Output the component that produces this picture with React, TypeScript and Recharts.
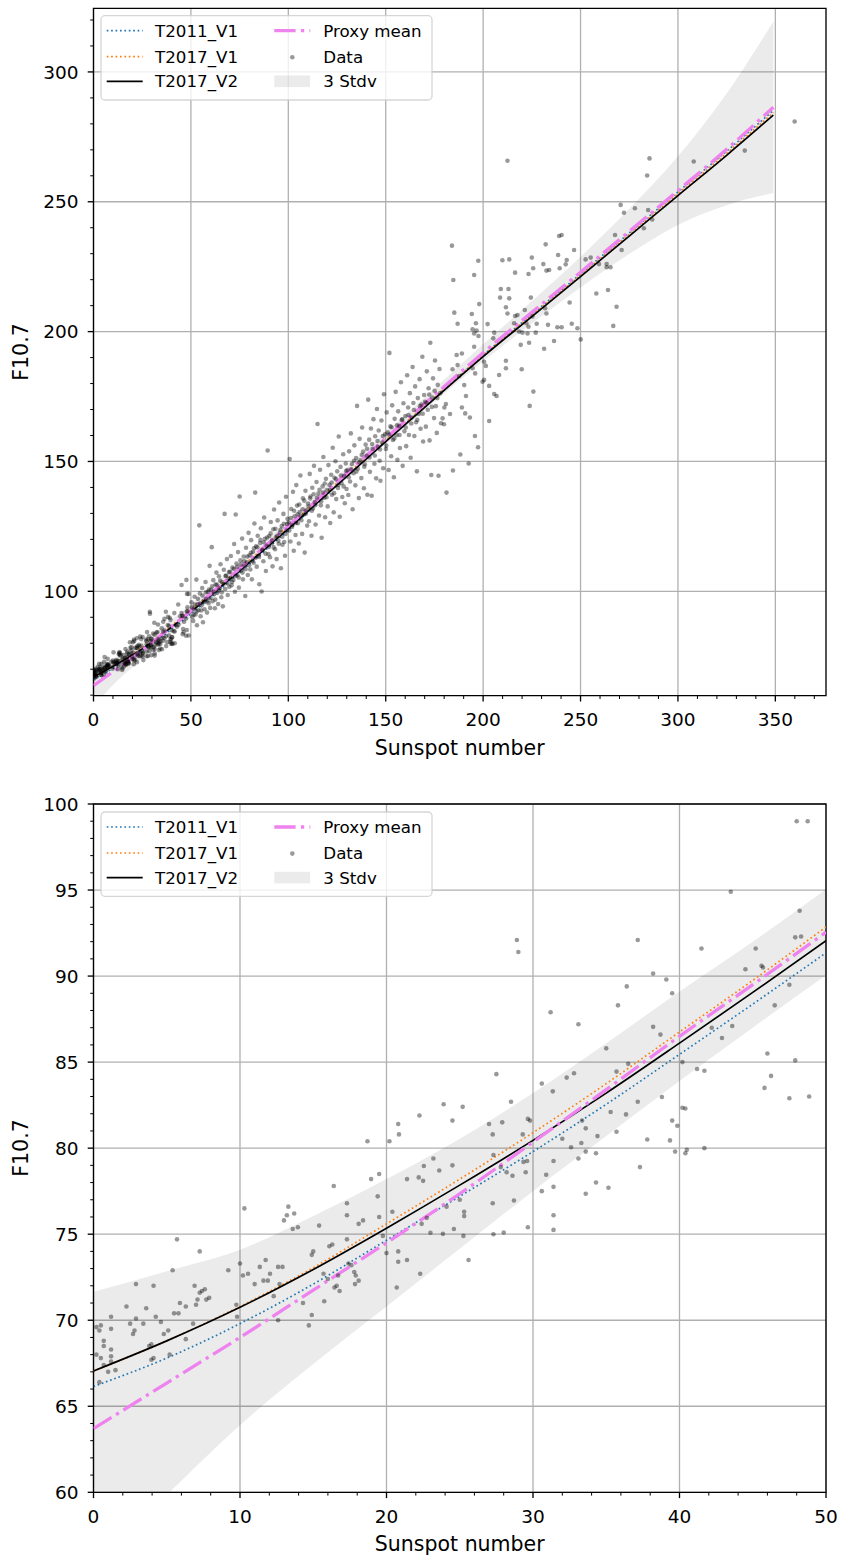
import React from 'react';
import {
  ComposedChart,
  Line,
  Area,
  Scatter,
  XAxis,
  YAxis,
  CartesianGrid,
  ReferenceArea,
} from 'recharts';

const FONT = 'DejaVu Sans, Verdana, sans-serif';
const TICK_FONT = 18.5;
const LABEL_FONT = 20.5;

// ---------------- Axis ticks ----------------
const topXMajor = [0, 50, 100, 150, 200, 250, 300, 350];
const topXMinor = [10, 20, 30, 40, 60, 70, 80, 90, 110, 120, 130, 140, 160, 170, 180, 190, 210, 220, 230, 240, 260, 270, 280, 290, 310, 320, 330, 340, 360, 370];
const topYMajor = [100, 150, 200, 250, 300];
const topYMinor = [60, 70, 80, 90, 110, 120, 130, 140, 160, 170, 180, 190, 210, 220, 230, 240, 260, 270, 280, 290, 310, 320];
const botXMajor = [0, 10, 20, 30, 40, 50];
const botXMinor = [2, 4, 6, 8, 12, 14, 16, 18, 22, 24, 26, 28, 32, 34, 36, 38, 42, 44, 46, 48];
const botYMajor = [60, 65, 70, 75, 80, 85, 90, 95, 100];
const botYMinor = [61, 62, 63, 64, 66, 67, 68, 69, 71, 72, 73, 74, 76, 77, 78, 79, 81, 82, 83, 84, 86, 87, 88, 89, 91, 92, 93, 94, 96, 97, 98, 99];

const topXDomain = [0, 376];
const topYDomain = [59.8, 324.5];
const botXDomain = [0, 50];
const botYDomain = [60, 100];

// ---------------- Model curves (zoomed range, sunspot 0..50) ----------------
const lowX = [0, 5, 10, 15, 20, 25, 30, 35, 40, 45, 50];
const lowT2011V1 = [66.15, 67.8, 69.8, 72.1, 74.65, 77.2, 79.8, 82.55, 85.45, 88.37, 91.35];
const lowT2017V1 = [67.05, 68.8, 70.8, 73.05, 75.6, 78.2, 80.9, 83.75, 86.75, 89.75, 92.85];
const lowT2017V2 = [67.05, 68.8, 70.75, 72.95, 75.35, 77.85, 80.45, 83.2, 86.1, 89.05, 92.05];
const lowProxy = [63.7, 66.35, 69.0, 71.75, 74.5, 77.35, 80.35, 83.4, 86.5, 89.5, 92.55];
const lowBandHi = [71.65, 72.85, 74.1, 76.05, 78.2, 80.55, 83.2, 86.1, 89.1, 92.0, 95.05];
const lowBandLo = [55.75, 59.85, 63.9, 67.45, 70.8, 74.15, 77.5, 80.7, 83.9, 87.0, 90.05];

// ---------------- Model curves (full range) ----------------
const fullX = [0, 25, 50, 75, 100, 125, 150, 175, 200, 225, 250, 275, 300, 325, 349];
const fullT2011V1 = [66.15, 77.2, 91.35, 107.3, 123.7, 140.8, 157.8, 174.5, 190.95, 206.6, 222.2, 238.0, 253.8, 269.5, 285.2];
const fullT2017V1 = [67.05, 78.2, 92.85, 108.8, 125.0, 141.7, 158.3, 174.7, 190.85, 206.3, 221.7, 237.4, 253.1, 268.7, 284.4];
const fullT2017V2 = [67.05, 77.85, 92.05, 107.9, 124.1, 140.9, 157.6, 174.1, 190.35, 205.8, 221.2, 236.8, 252.4, 267.9, 283.4];
const fullProxy = [63.7, 77.35, 92.55, 108.8, 125.2, 142.1, 158.9, 175.5, 191.85, 207.4, 222.9, 238.6, 254.3, 270.2, 286.4];
const highBandX = [75, 100, 125, 150, 175, 200, 225, 250, 275, 300, 325, 349];
const highBandHi = [111.1, 127.4, 144.3, 161.2, 178.1, 195.15, 211.7, 228.8, 247.3, 267.5, 291.7, 319.4];
const highBandLo = [106.5, 123.0, 139.9, 156.6, 172.9, 188.55, 203.1, 217.0, 229.9, 241.1, 248.7, 253.4];

// ---------------- Observations [sunspot number, F10.7] ----------------
const dataLow: number[][] = [
  [0.2, 69.6], [0.4, 69.4], [0.5, 69.7], [0.7, 68.5], [0.7, 68.8], [0.2, 68.0], [0.5, 67.8], [1.2, 70.2], [1.2, 69.5], [1.2, 68.3],
  [1.2, 67.9], [1.2, 67.6], [1.0, 67.0], [1.5, 67.1], [0.4, 66.4], [0.7, 67.4], [2.25, 70.8], [2.5, 69.8], [2.7, 69.2], [2.8, 69.4],
  [2.9, 70.1], [2.9, 72.1], [3.4, 69.8], [3.6, 70.7], [4.1, 72.0], [4.25, 70.2], [4.6, 69.9], [3.8, 68.5], [3.95, 67.7], [4.1, 67.8],
  [3.95, 68.6], [4.8, 69.2], [5.1, 69.4], [5.2, 68.0], [5.4, 72.9], [5.5, 70.4], [5.7, 74.7], [5.8, 70.4], [5.9, 71.0], [6.3, 70.8],
  [6.3, 68.9], [6.8, 69.8], [6.9, 72.0], [7.0, 70.9], [7.1, 71.2], [7.25, 71.6], [7.4, 71.7], [7.6, 71.8], [7.7, 71.2], [7.9, 71.3],
  [7.25, 74.0], [9.2, 72.9], [9.75, 70.9], [9.8, 70.2], [10.0, 73.3], [10.2, 72.6], [10.3, 76.5], [10.55, 72.7], [11.0, 72.1], [11.35, 73.1],
  [11.6, 72.3], [11.75, 73.5], [11.9, 72.3], [12.05, 72.7], [12.3, 71.4], [12.6, 73.1], [12.6, 70.0], [12.7, 72.1], [12.9, 73.1], [13.0, 75.8],
  [13.2, 76.1], [13.3, 76.6], [13.6, 75.3], [13.7, 76.2], [13.95, 75.4], [14.3, 71.0], [14.7, 69.7], [14.9, 73.8], [14.9, 70.3], [15.0, 74.0],
  [15.4, 75.5], [15.7, 72.7], [15.75, 71.1], [16.0, 72.4], [16.1, 74.3], [16.3, 74.4], [16.4, 77.8], [16.45, 71.9], [16.6, 72.0], [16.7, 72.6],
  [16.8, 71.7], [17.3, 76.8], [17.3, 76.1], [17.3, 74.7], [17.4, 73.3], [17.6, 73.2], [17.8, 72.8], [17.85, 72.1], [17.9, 72.6], [18.1, 75.6],
  [18.1, 72.3], [18.4, 75.8], [18.7, 80.4], [18.95, 78.2], [19.4, 77.2], [19.5, 78.5], [19.5, 76.0], [19.75, 74.9], [20.0, 73.9], [20.2, 80.4],
  [20.4, 76.3], [20.7, 71.9], [20.8, 81.4], [20.8, 74.0], [20.85, 80.8], [20.8, 73.4], [21.4, 78.2], [21.4, 73.5], [22.3, 72.7], [25.6, 73.5],
  [28.9, 92.1], [29.0, 91.4], [37.15, 92.1], [38.2, 90.15], [39.1, 89.8], [39.5, 89.0], [36.4, 89.4], [35.8, 88.3], [31.2, 87.9], [33.1, 87.2],
  [38.2, 87.05], [38.7, 86.6], [35.0, 85.8], [40.2, 85.0], [41.2, 84.6], [36.5, 84.9], [35.7, 84.45], [32.8, 84.35], [32.3, 84.1], [27.5, 84.3],
  [30.6, 83.75], [31.35, 83.3], [28.5, 82.7], [23.9, 82.55], [25.2, 82.4], [22.25, 81.9], [24.5, 81.6], [27.0, 81.4], [27.9, 81.5], [29.65, 81.7],
  [29.8, 81.6], [29.3, 80.8], [27.25, 80.8], [33.35, 81.6], [33.6, 81.15], [34.4, 80.7], [33.3, 80.3], [32.6, 80.05], [33.1, 79.4], [33.6, 79.8],
  [34.3, 79.7], [35.3, 82.1], [35.7, 80.95], [36.35, 81.96], [37.15, 82.7], [37.8, 80.5], [38.8, 82.97], [39.35, 80.45], [39.5, 81.6], [39.85, 81.3],
  [39.7, 79.8], [40.4, 79.7], [40.2, 82.35], [37.3, 78.9], [34.3, 78.0], [35.15, 77.7], [33.6, 77.35], [31.4, 77.75], [30.6, 77.5], [30.9, 78.45],
  [31.4, 79.25], [32.0, 80.55], [29.5, 78.6], [29.6, 79.25], [29.35, 79.2], [28.6, 78.4], [28.2, 78.6], [27.3, 79.6], [27.25, 76.8], [27.8, 78.9],
  [28.7, 76.96], [31.4, 76.1], [31.4, 75.25], [29.65, 75.4], [25.3, 76.3], [25.3, 76.05], [24.6, 75.3], [23.6, 78.7], [24.5, 79.0], [23.2, 79.4],
  [22.55, 78.96], [22.2, 78.3], [22.5, 78.1], [24.1, 76.6], [25.0, 77.0], [22.75, 75.95], [22.4, 75.6], [23.0, 75.08], [23.85, 75.02], [25.25, 74.9],
  [27.3, 75.0], [28.0, 75.1], [48.0, 99.0], [48.75, 99.0], [43.5, 94.9], [48.2, 93.8], [47.9, 92.25], [48.3, 92.3], [45.2, 91.6], [45.6, 90.6],
  [45.7, 90.5], [44.5, 90.4], [47.5, 89.5], [41.5, 91.6], [46.5, 88.3], [46.0, 85.5], [47.9, 85.1], [42.2, 87.0], [43.6, 87.1], [42.9, 86.4],
  [41.7, 84.5], [46.25, 84.2], [45.8, 83.5], [47.5, 82.9], [48.85, 83.0], [40.4, 82.3], [40.5, 79.9], [41.7, 80.0],
];

const dataHigh: number[][] = [
  [45.2, 102.4], [47.7, 104.4],
  [50.3, 95.8], [50.8, 90.2], [51.2, 88.6], [51.5, 93.4], [51.9, 97.9], [52.4, 91.1], [52.8, 104.5], [53.1, 86.9], [53.5, 95.0], [53.9, 92.7],
  [54.3, 125.4], [54.6, 99.2], [55.0, 90.4], [55.4, 94.6], [55.8, 101.3], [56.2, 88.1], [56.6, 96.3], [57.0, 93.1], [57.5, 103.6], [57.9, 97.0],
  [58.3, 91.8], [58.7, 99.8], [59.1, 95.4], [59.6, 109.8], [59.9, 93.6],
  [60.3, 100.6], [60.7, 117.0], [61.1, 96.2], [61.5, 104.3], [61.9, 98.9], [62.3, 93.5], [62.7, 102.7], [63.1, 107.2], [63.6, 99.4], [64.0, 95.1],
  [64.4, 105.8], [64.8, 101.2], [65.2, 110.4], [65.6, 97.7], [66.0, 103.5], [66.4, 94.2], [66.9, 108.3], [67.3, 129.8], [67.6, 100.9], [68.0, 106.1],
  [68.5, 112.4], [68.9, 98.6], [69.3, 104.9], [69.7, 101.8],
  [70.1, 107.5], [70.5, 113.6], [70.9, 102.3], [71.3, 109.1], [71.8, 104.4], [72.2, 118.2], [72.6, 99.8], [73.0, 129.6], [73.4, 110.7], [73.8, 106.2],
  [74.2, 115.1], [74.6, 101.4], [75.0, 136.5], [75.4, 111.9], [75.8, 108.0], [76.3, 120.3], [76.7, 104.6], [77.1, 113.4], [77.5, 109.7], [77.9, 98.2],
  [78.3, 116.8], [78.8, 111.2], [79.2, 106.3], [79.6, 122.5],
  [80.1, 113.9], [80.5, 108.4], [80.9, 119.7], [81.3, 104.6], [81.8, 115.2], [82.2, 111.0], [82.6, 126.1], [83.0, 138.0], [83.4, 117.3], [83.8, 109.5],
  [84.3, 121.4], [84.7, 113.8], [85.1, 102.7], [85.5, 118.6], [85.9, 124.3], [86.3, 99.9], [86.8, 116.0], [87.2, 111.6], [87.6, 128.4], [88.0, 120.2],
  [88.5, 107.8], [88.9, 117.5], [89.4, 154.2], [89.8, 114.3],
  [90.2, 121.3], [90.6, 113.1], [91.0, 126.7], [91.5, 118.4], [91.9, 109.6], [92.3, 123.9], [92.7, 131.5], [93.2, 116.2], [93.6, 120.8], [94.0, 112.4],
  [94.5, 127.3], [94.9, 119.5], [95.3, 134.2], [95.7, 122.6], [96.2, 108.9], [96.6, 125.1], [97.0, 117.9], [97.5, 129.8], [97.9, 119.0], [98.3, 113.7],
  [98.8, 136.4], [99.2, 123.4], [99.6, 127.9],
  [100.2, 126.5], [100.7, 150.9], [101.1, 119.2], [101.5, 131.7], [101.9, 124.8], [102.4, 138.3], [102.8, 115.6], [103.2, 128.9], [103.7, 121.7], [104.1, 140.9],
  [104.5, 133.0], [104.9, 126.2], [105.4, 118.4], [105.8, 130.5], [106.2, 144.6], [106.7, 127.4], [107.1, 122.1], [107.5, 135.8], [108.0, 129.6], [108.4, 114.9],
  [108.8, 138.7], [109.3, 131.2], [109.7, 125.3],
  [110.1, 133.8], [110.6, 127.0], [111.0, 145.2], [111.4, 136.5], [111.9, 121.4], [112.3, 139.9], [112.7, 131.9], [113.2, 148.3], [113.6, 134.4], [114.0, 125.7],
  [114.5, 142.1], [115.0, 164.4], [115.4, 137.6], [115.8, 129.2], [116.3, 146.8], [116.7, 133.1], [117.1, 120.6], [117.6, 140.4], [118.0, 151.7], [118.5, 136.0],
  [118.9, 128.5], [119.3, 143.3], [119.8, 138.9],
  [120.2, 132.7], [120.6, 148.6], [121.1, 141.0], [121.5, 126.3], [122.0, 144.9], [122.4, 137.2], [122.8, 155.3], [123.3, 130.4], [123.7, 143.7], [124.2, 150.1],
  [124.6, 135.5], [125.1, 146.2], [125.5, 139.8], [125.9, 159.6], [126.4, 128.7], [126.8, 147.9], [127.3, 141.6], [127.7, 136.3], [128.2, 152.8], [128.6, 144.5],
  [129.0, 133.9], [129.5, 149.2], [129.9, 139.4],
  [130.3, 146.7], [130.8, 137.1], [131.2, 153.9], [131.7, 142.3], [132.1, 160.8], [132.6, 149.0], [133.0, 131.6], [133.5, 145.5], [133.9, 156.2], [134.4, 140.8],
  [134.8, 151.3], [135.3, 171.4], [135.7, 147.2], [136.2, 135.9], [136.6, 158.7], [137.0, 150.4], [137.5, 143.6], [137.9, 163.1], [138.4, 153.8], [138.8, 139.7],
  [139.3, 148.9], [139.7, 156.5],
  [140.2, 152.2], [140.6, 137.2], [141.0, 173.8], [141.5, 158.4], [141.9, 146.0], [142.4, 162.7], [142.8, 136.8], [143.3, 154.9], [143.7, 166.3], [144.2, 149.1],
  [144.6, 159.7], [145.1, 143.5], [145.5, 170.2], [146.0, 155.6], [146.4, 161.9], [146.9, 150.3], [147.3, 142.6], [147.8, 165.8], [148.2, 157.3], [148.7, 147.4],
  [149.1, 175.9], [149.6, 160.5],
  [150.1, 154.8], [150.5, 168.9], [151.0, 161.2], [151.5, 146.7], [151.9, 191.8], [152.4, 163.5], [152.8, 152.0], [153.3, 171.6], [153.7, 158.3], [154.2, 143.9],
  [154.6, 166.4], [155.1, 176.8], [155.5, 160.1], [156.0, 150.6], [156.4, 169.3], [156.9, 163.7], [157.3, 155.2], [157.8, 180.5], [158.2, 166.0], [158.7, 148.3],
  [159.1, 172.4], [159.6, 161.6],
  [160.1, 167.5], [160.5, 155.9], [161.0, 183.2], [161.5, 170.8], [161.9, 160.2], [162.4, 176.3], [162.8, 151.4], [163.3, 166.9], [163.8, 186.4], [164.2, 172.5],
  [164.7, 159.8], [165.1, 178.9], [165.6, 165.1], [166.0, 146.2], [166.5, 174.4], [167.0, 168.3], [167.4, 181.7], [167.9, 162.6], [168.3, 171.9], [168.8, 190.3],
  [169.2, 157.7], [169.7, 175.6],
  [170.2, 173.0], [170.6, 163.4], [171.1, 184.7], [171.6, 169.9], [172.0, 178.2], [172.5, 158.1], [172.9, 195.7], [173.4, 144.8], [173.9, 174.6], [174.3, 182.0],
  [174.8, 166.7], [175.3, 188.9], [175.7, 171.3], [176.2, 161.0], [176.7, 179.5], [177.1, 144.5], [177.6, 185.6], [179.9, 164.3],
  [181.2, 138.0], [184.5, 146.5], [188.3, 152.7], [192.6, 149.2], [197.4, 155.5],
  [50.6, 93.8], [51.4, 91.0], [52.1, 94.9], [52.9, 92.2], [53.6, 97.1], [54.8, 95.3], [55.3, 92.6], [56.0, 98.4], [56.9, 95.9], [57.7, 99.6],
  [58.5, 96.2], [59.3, 100.7], [60.1, 97.4], [60.9, 101.9], [61.7, 99.8], [62.5, 96.8], [63.3, 102.4], [64.2, 100.3], [65.0, 104.1], [65.9, 99.6],
  [66.7, 102.8], [67.8, 105.9], [68.7, 103.1], [69.5, 107.4], [70.4, 105.2], [71.1, 103.6], [72.0, 108.7], [72.9, 106.0], [73.7, 109.4], [74.5, 105.3],
  [75.6, 110.3], [76.5, 107.2], [77.3, 111.6], [78.1, 108.5], [79.0, 113.4], [79.9, 110.0], [80.8, 114.8], [81.6, 111.7], [82.4, 116.6], [83.2, 112.9],
  [84.1, 117.0], [85.0, 113.2], [85.7, 119.8], [86.6, 115.7], [87.4, 118.9], [88.3, 114.5], [89.1, 120.7], [90.0, 117.1], [90.9, 122.3], [91.7, 119.6],
  [92.5, 116.9], [93.4, 124.1], [94.3, 121.4], [95.1, 118.3], [96.0, 123.7], [96.9, 121.0], [97.7, 126.0], [98.6, 122.1], [99.4, 125.9], [100.5, 123.4],
  [101.3, 128.2], [102.1, 125.5], [103.0, 131.0], [103.9, 126.3], [104.8, 129.7], [105.6, 133.4], [106.5, 128.9], [107.3, 131.6], [108.2, 134.9], [109.0, 129.9],
  [110.4, 132.6], [111.2, 135.8], [112.1, 131.0], [113.0, 137.4], [113.9, 133.2], [114.7, 136.0], [116.0, 139.1], [116.9, 134.7], [117.8, 138.0], [118.7, 141.5],
  [119.6, 136.2], [121.3, 139.1], [122.2, 141.9], [123.5, 137.8], [124.4, 143.2], [125.7, 141.0], [127.0, 144.6], [128.4, 140.4], [129.7, 146.3], [131.0, 143.9],
  [132.3, 147.0], [133.7, 150.3], [135.0, 146.1], [136.4, 149.7], [137.7, 152.6], [139.0, 148.0], [140.4, 154.9], [141.7, 151.5], [143.0, 156.7], [144.4, 152.3],
  [145.8, 157.9], [147.1, 154.6], [148.5, 159.8], [150.3, 156.1], [151.7, 160.4], [153.0, 163.2], [154.4, 158.8], [155.8, 163.9], [157.1, 160.2], [158.5, 166.2],
  [160.3, 163.1], [161.7, 167.9], [163.1, 164.6], [164.5, 169.8], [166.2, 166.0], [167.6, 171.3], [169.0, 168.4], [170.9, 172.6], [172.3, 175.8], [173.7, 171.0],
  [175.1, 177.2], [176.5, 174.4], [178.0, 176.3],
  [359.9, 280.9], [334.3, 269.7], [308.1, 265.5], [285.4, 266.7], [284.2, 260.1], [212.5, 265.8], [270.6, 248.8], [272.3, 245.8], [277.9, 247.5], [284.7, 246.8],
  [286.8, 243.2], [282.5, 239.8], [271.1, 231.4], [267.7, 237.2], [239.0, 236.8], [240.3, 237.2], [232.1, 233.6], [184.0, 233.1], [246.7, 231.4], [238.5, 229.5],
  [242.9, 227.6], [242.4, 225.9], [239.3, 224.4], [230.9, 226.0], [232.5, 223.5], [233.9, 223.7], [225.0, 228.5], [225.7, 224.4], [223.3, 222.2], [216.4, 222.7],
  [213.4, 227.8], [209.9, 227.5], [197.5, 227.3], [195.4, 221.8], [184.7, 219.9], [252.6, 227.8], [255.2, 228.5], [259.5, 226.0], [263.4, 226.0], [263.4, 224.8],
  [265.4, 224.8], [258.1, 214.7], [264.1, 216.0], [268.5, 209.6], [266.8, 202.2], [244.4, 211.2], [250.1, 197.0], [248.4, 201.3], [245.5, 203.0], [240.3, 201.7],
  [238.1, 201.7], [236.4, 196.4], [231.3, 193.4], [233.3, 202.6], [227.5, 203.0], [224.5, 213.1], [225.3, 205.8], [232.5, 207.0], [231.8, 209.0], [223.3, 201.9],
  [222.8, 199.3], [223.6, 195.7], [220.2, 199.6], [219.3, 194.9], [219.8, 185.5], [225.8, 176.9], [223.9, 171.4], [213.0, 216.4], [213.4, 212.8], [209.1, 216.4],
  [208.7, 213.1], [211.7, 209.4], [212.5, 207.0], [216.4, 206.0], [217.6, 206.4], [221.4, 208.3], [215.9, 203.2], [218.5, 200.0], [222.2, 203.2], [227.0, 199.6],
  [211.7, 185.9], [208.2, 183.3], [206.9, 175.2], [205.7, 176.0], [203.1, 179.1], [203.1, 165.6], [198.0, 210.6], [194.2, 206.8], [196.3, 203.2], [194.6, 200.9],
  [195.4, 199.3], [196.6, 200.4], [197.6, 198.3], [202.3, 202.9], [205.2, 197.4], [205.7, 199.6], [211.7, 188.8], [200.5, 188.4], [201.4, 186.8], [195.4, 194.2],
  [195.9, 183.9], [200.5, 181.4], [199.7, 180.7], [186.9, 203.0], [186.4, 191.0], [189.1, 191.6], [186.9, 187.1], [184.3, 185.5], [194.6, 185.9], [190.3, 179.4],
  [191.2, 175.2], [190.8, 168.5], [193.2, 166.9], [187.7, 182.9], [189.1, 170.8], [180.9, 172.1], [180.1, 170.8], [183.0, 168.3], [179.2, 166.6], [178.4, 164.7],
  [195.8, 159.8], [185.2, 207.3],
];

// ---------------- Legend ----------------
const legendLeft = ['T2011_V1', 'T2017_V1', 'T2017_V2'];
const legendRight = ['Proxy mean', 'Data', '3 Stdv'];

// ---------------- helpers that only reshape the arrays above ----------------
const toRows = (xs: number[], ys: number[]) => xs.map((x, i) => ({ x, y: ys[i] }));
const toBand = (xs: number[], lo: number[], hi: number[]) => xs.map((x, i) => ({ x, band: [lo[i], hi[i]] }));
const toPts = (arr: number[][]) => arr.map(([x, y]) => ({ x, y }));

const COLORS = {
  t2011: '#1f77b4',
  t2017v1: '#ff7f0e',
  t2017v2: '#000000',
  proxy: '#ee82ee',
  grid: '#b0b0b0',
};
const DOT = '1.67 2.75';
const DASHDOT = '21.3 5.3 3.3 5.3';
const PT_OPACITY = 0.4;

const makeXTick = (majors: number[]) => (props: any) => {
  const { x, y, payload } = props;
  const v = payload.value;
  const major = majors.indexOf(v) >= 0;
  return (
    <g>
      <line x1={x} x2={x} y1={y} y2={y + (major ? 5.8 : 3.3)} stroke="#000" strokeWidth={major ? 1.33 : 1} />
      {major && (
        <text x={x} y={y + 30.5} textAnchor="middle" fontFamily={FONT} fontSize={TICK_FONT} fill="#000">
          {v}
        </text>
      )}
    </g>
  );
};

const makeYTick = (majors: number[]) => (props: any) => {
  const { x, y, payload } = props;
  const v = payload.value;
  const major = majors.indexOf(v) >= 0;
  return (
    <g>
      <line x1={x - (major ? 5.8 : 3.3)} x2={x} y1={y} y2={y} stroke="#000" strokeWidth={major ? 1.33 : 1} />
      {major && (
        <text x={x - 15} y={y} dy="0.36em" textAnchor="end" fontFamily={FONT} fontSize={TICK_FONT} fill="#000">
          {v}
        </text>
      )}
    </g>
  );
};

const Legend = ({ top }: { top: number }) => {
  const rowC = [15, 41, 65.6];
  return (
    <g transform={`translate(101, ${top})`}>
      <rect x={0} y={0} width={331} height={84.3} rx={4} ry={4} fill="#ffffff" fillOpacity={0.8} stroke="#cccccc" strokeOpacity={0.8} strokeWidth={1.3} />
      <line x1={5.7} x2={41.7} y1={rowC[0]} y2={rowC[0]} stroke={COLORS.t2011} strokeWidth={1.67} strokeDasharray={DOT} />
      <line x1={5.7} x2={41.7} y1={rowC[1]} y2={rowC[1]} stroke={COLORS.t2017v1} strokeWidth={1.67} strokeDasharray={DOT} />
      <line x1={5.7} x2={41.7} y1={rowC[2]} y2={rowC[2]} stroke={COLORS.t2017v2} strokeWidth={1.67} />
      <line x1={173.3} x2={209.3} y1={rowC[0]} y2={rowC[0]} stroke={COLORS.proxy} strokeWidth={3.3} strokeDasharray={DASHDOT} />
      <circle cx={191.3} cy={rowC[1] + 0.6} r={2.3} fill="#000" fillOpacity={PT_OPACITY} />
      <rect x={173.3} y={rowC[2] - 5.8} width={35.8} height={11.6} fill="#000" fillOpacity={0.08} />
      {legendLeft.map((t, i) => (
        <text key={t} x={54} y={rowC[i] + 6} fontFamily={FONT} fontSize={16.7} fill="#000">
          {t}
        </text>
      ))}
      {legendRight.map((t, i) => (
        <text key={t} x={222.3} y={rowC[i] + 6} fontFamily={FONT} fontSize={16.7} fill="#000">
          {t}
        </text>
      ))}
    </g>
  );
};

type PanelProps = {
  width: number;
  height: number;
  marginTop: number;
  xAxisHeight: number;
  xDomain: number[];
  yDomain: number[];
  xMajor: number[];
  xMinor: number[];
  yMajor: number[];
  yMinor: number[];
  t2011: { x: number; y: number }[];
  t2017v1: { x: number; y: number }[];
  t2017v2: { x: number; y: number }[];
  proxy: { x: number; y: number }[];
  band: { x: number; band: number[] }[];
  points: { x: number; y: number }[];
};

const Panel = (p: PanelProps) => {
  const xTicks = [...p.xMajor, ...p.xMinor].sort((a, b) => a - b);
  const yTicks = [...p.yMajor, ...p.yMinor].sort((a, b) => a - b);
  return (
    <ComposedChart width={p.width} height={p.height} margin={{ top: p.marginTop, right: 15, bottom: 0, left: 0 }}>
      <CartesianGrid stroke={COLORS.grid} strokeWidth={1.3} horizontalValues={p.yMajor} verticalValues={p.xMajor} />
      <XAxis
        type="number"
        dataKey="x"
        domain={p.xDomain}
        ticks={xTicks}
        interval={0}
        allowDataOverflow
        axisLine={false}
        tickLine={false}
        tickSize={0}
        tickMargin={0}
        height={p.xAxisHeight}
        tick={makeXTick(p.xMajor)}
      />
      <YAxis
        type="number"
        dataKey="y"
        domain={p.yDomain}
        ticks={yTicks}
        interval={0}
        allowDataOverflow
        axisLine={false}
        tickLine={false}
        tickSize={0}
        tickMargin={0}
        width={93.5}
        tick={makeYTick(p.yMajor)}
      />
      <Area data={p.band} dataKey="band" type="monotone" stroke="none" fill="#000" fillOpacity={0.08} isAnimationActive={false} dot={false} activeDot={false} />
      <Scatter
        data={p.points}
        dataKey="y"
        isAnimationActive={false}
        shape={(s: any) => <circle cx={s.cx} cy={s.cy} r={2.3} fill="#000" fillOpacity={PT_OPACITY} />}
      />
      <Line data={p.t2011} dataKey="y" type="monotone" stroke={COLORS.t2011} strokeWidth={1.67} strokeDasharray={DOT} dot={false} activeDot={false} isAnimationActive={false} />
      <Line data={p.t2017v1} dataKey="y" type="monotone" stroke={COLORS.t2017v1} strokeWidth={1.67} strokeDasharray={DOT} dot={false} activeDot={false} isAnimationActive={false} />
      <Line data={p.t2017v2} dataKey="y" type="monotone" stroke={COLORS.t2017v2} strokeWidth={1.67} dot={false} activeDot={false} isAnimationActive={false} />
      <Line data={p.proxy} dataKey="y" type="monotone" stroke={COLORS.proxy} strokeWidth={3.3} strokeDasharray={DASHDOT} dot={false} activeDot={false} isAnimationActive={false} />
      <ReferenceArea x1={p.xDomain[0]} x2={p.xDomain[1]} y1={p.yDomain[0]} y2={p.yDomain[1]} fill="none" fillOpacity={0} stroke="#000" strokeWidth={1.33} ifOverflow="visible" />
    </ComposedChart>
  );
};

export default function App() {
  const topBand = toBand([...lowX, ...highBandX], [...lowBandLo, ...highBandLo], [...lowBandHi, ...highBandHi]);
  const lowBand = toBand(lowX, lowBandLo, lowBandHi);
  const allPts = toPts([...dataLow, ...dataHigh]);
  const lowPts = toPts(dataLow);
  return (
    <div style={{ position: 'absolute', left: 0, top: 0, width: 841, height: 1558, background: '#fff', overflow: 'hidden' }}>
      <div style={{ position: 'absolute', left: 0, top: 0, width: 841, height: 780 }}>
        <Panel
          width={841}
          height={780}
          marginTop={8.3}
          xAxisHeight={84.3}
          xDomain={topXDomain}
          yDomain={topYDomain}
          xMajor={topXMajor}
          xMinor={topXMinor}
          yMajor={topYMajor}
          yMinor={topYMinor}
          t2011={toRows(fullX, fullT2011V1)}
          t2017v1={toRows(fullX, fullT2017V1)}
          t2017v2={toRows(fullX, fullT2017V2)}
          proxy={toRows(fullX, fullProxy)}
          band={topBand}
          points={allPts}
        />
      </div>
      <div style={{ position: 'absolute', left: 0, top: 780, width: 841, height: 778 }}>
        <Panel
          width={841}
          height={778}
          marginTop={24}
          xAxisHeight={65.7}
          xDomain={botXDomain}
          yDomain={botYDomain}
          xMajor={botXMajor}
          xMinor={botXMinor}
          yMajor={botYMajor}
          yMinor={botYMinor}
          t2011={toRows(lowX, lowT2011V1)}
          t2017v1={toRows(lowX, lowT2017V1)}
          t2017v2={toRows(lowX, lowT2017V2)}
          proxy={toRows(lowX, lowProxy)}
          band={lowBand}
          points={lowPts}
        />
      </div>
      <svg width={841} height={1558} style={{ position: 'absolute', left: 0, top: 0, pointerEvents: 'none' }}>
        <Legend top={15.7} />
        <Legend top={812} />
        <text x={459.75} y={755} textAnchor="middle" fontFamily={FONT} fontSize={LABEL_FONT} fill="#000">Sunspot number</text>
        <text x={459.75} y={1551} textAnchor="middle" fontFamily={FONT} fontSize={LABEL_FONT} fill="#000">Sunspot number</text>
        <text x={28} y={352} textAnchor="middle" fontFamily={FONT} fontSize={LABEL_FONT} fill="#000" transform="rotate(-90, 28, 352)">F10.7</text>
        <text x={28} y={1148} textAnchor="middle" fontFamily={FONT} fontSize={LABEL_FONT} fill="#000" transform="rotate(-90, 28, 1148)">F10.7</text>
      </svg>
    </div>
  );
}
